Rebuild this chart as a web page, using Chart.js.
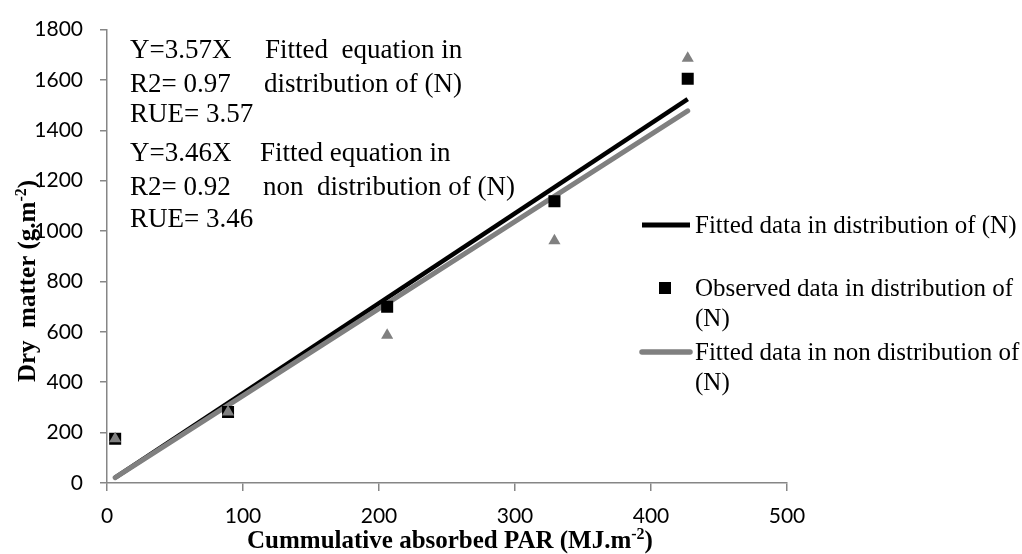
<!DOCTYPE html>
<html>
<head>
<meta charset="utf-8">
<script src="https://cdn.jsdelivr.net/npm/chart.js@4/dist/chart.umd.min.js"></script>
<style>
  html, body { margin: 0; padding: 0; background: #fff; }
  #wrap { width: 1022px; height: 554px; position: relative; }
</style>
</head>
<body>
<div id="wrap"><canvas id="rueChart"></canvas></div>
<script>
// cumulative absorbed PAR (x) and dry matter values
const parValues = [6, 89, 206, 329, 427];
const observedDist = [176, 282, 700, 1119, 1605];
const observedNonDist = [176, 282, 587, 962, 1686];
const fittedDist = [21, 318, 735, 1175, 1524];
const fittedNonDist = [21, 308, 713, 1138, 1477];

const xTicks = [0, 100, 200, 300, 400, 500];
const yTicks = [0, 200, 400, 600, 800, 1000, 1200, 1400, 1600, 1800];

const seriesLabels = [
    'Fitted data in distribution of (N)',
    'Observed data in distribution of (N)',
    'Fitted data in non distribution of (N)',
    'Observed data in non distribution of (N)'
];

// equation notes, left and right column
const noteLines = [
    ['Y=3.57X', 'Fitted  equation in'],
    ['R2= 0.97', 'distribution of (N)'],
    ['RUE= 3.57', ''],
    ['Y=3.46X', 'Fitted equation in'],
    ['R2= 0.92', 'non  distribution of (N)'],
    ['RUE= 3.46', '']
];

const toPoints = (xs, ys) => xs.map((x, i) => ({ x: x, y: ys[i] }));

const GREY = '#808080';
const SERIF = '"Liberation Serif", "Times New Roman", serif';

// draws bold text with superscript pieces, centred on x
function drawRich(ctx, parts, x, y, size) {
    const supSize = Math.round(size * 0.62);
    let total = 0;
    parts.forEach(p => {
        ctx.font = 'bold ' + (p.sup ? supSize : size) + 'px ' + SERIF;
        p.w = ctx.measureText(p.t).width;
        total += p.w;
    });
    let cx = x - total / 2;
    parts.forEach(p => {
        ctx.font = 'bold ' + (p.sup ? supSize : size) + 'px ' + SERIF;
        ctx.fillText(p.t, cx, p.sup ? y - size * 0.36 : y);
        cx += p.w;
    });
}

const overlay = {
    id: 'overlay',
    afterDraw(chart) {
        const ctx = chart.ctx;
        ctx.save();
        ctx.fillStyle = '#000';
        ctx.textBaseline = 'alphabetic';
        ctx.textAlign = 'left';

        // equations
        ctx.font = '27px ' + SERIF;
        const noteY = [58, 92, 122, 161, 195, 227];
        const rightX = [265, 264, 264, 260, 263, 263];
        noteLines.forEach((row, i) => {
            ctx.fillText(row[0], 130, noteY[i]);
            if (row[1]) ctx.fillText(row[1], rightX[i], noteY[i]);
        });

        // axis titles
        drawRich(ctx, [
            { t: 'Cummulative absorbed PAR (MJ.m' },
            { t: '-2', sup: true },
            { t: ')' }
        ], 450, 548, 25);

        ctx.save();
        ctx.translate(35, 281);
        ctx.rotate(-Math.PI / 2);
        drawRich(ctx, [
            { t: 'Dry  matter (g.m' },
            { t: '-2', sup: true },
            { t: ')' }
        ], 0, 0, 25);
        ctx.restore();

        // legend
        ctx.font = '25px ' + SERIF;
        ctx.lineCap = 'butt';
        ctx.strokeStyle = '#000';
        ctx.lineWidth = 5;
        ctx.beginPath();
        ctx.moveTo(642, 225);
        ctx.lineTo(690, 225);
        ctx.stroke();
        ctx.fillText('Fitted data in distribution of (N)', 695, 233);

        ctx.fillRect(659, 282, 12, 12);
        ctx.fillText('Observed data in distribution of', 695, 296);
        ctx.fillText('(N)', 695, 326);

        ctx.strokeStyle = GREY;
        ctx.lineWidth = 5.5;
        ctx.lineCap = 'round';
        ctx.beginPath();
        ctx.moveTo(642, 352);
        ctx.lineTo(690, 352);
        ctx.stroke();
        ctx.fillText('Fitted data in non distribution of', 695, 360);
        ctx.fillText('(N)', 695, 390);
        ctx.restore();
    }
};

const ctx = document.getElementById('rueChart').getContext('2d');
const rueChart = new Chart(ctx, {
    type: 'scatter',
    data: {
        datasets: [{
            label: seriesLabels[3],
            data: toPoints(parValues, observedNonDist),
            pointStyle: 'triangle',
            pointRadius: 7,
            backgroundColor: GREY,
            borderColor: GREY,
            borderWidth: 0,
            order: 1
        }, {
            label: seriesLabels[1],
            data: toPoints(parValues, observedDist),
            pointStyle: 'rect',
            pointRadius: 8.5,
            backgroundColor: '#000',
            borderColor: '#000',
            borderWidth: 0,
            order: 2
        }, {
            label: seriesLabels[2],
            data: toPoints([parValues[0], parValues[4]], [fittedNonDist[0], fittedNonDist[4]]),
            showLine: true,
            borderColor: GREY,
            borderWidth: 5,
            borderCapStyle: 'round',
            pointRadius: 0,
            order: 3
        }, {
            label: seriesLabels[0],
            data: toPoints([parValues[0], parValues[4]], [fittedDist[0], fittedDist[4]]),
            showLine: true,
            borderColor: '#000',
            borderWidth: 4.5,
            borderCapStyle: 'butt',
            pointRadius: 0,
            order: 4
        }]
    },
    options: {
        responsive: true,
        maintainAspectRatio: false,
        animation: false,
        layout: {
            padding: { left: 0, top: 23, right: 235, bottom: 0 }
        },
        plugins: {
            legend: { display: false },
            tooltip: { enabled: false }
        },
        scales: {
            x: {
                type: 'linear',
                min: xTicks[0],
                max: xTicks[xTicks.length - 1],
                afterBuildTicks: s => { s.ticks = xTicks.map(v => ({ value: v })); },
                afterFit: s => { s.height = 71; },
                border: { color: '#868686', width: 1.5 },
                grid: { drawOnChartArea: false, tickLength: 8, color: '#868686', lineWidth: 1.5 },
                ticks: {
                    color: '#000',
                    padding: 13,
                    font: { family: 'Lato', size: 21 },
                    callback: v => String(v)
                }
            },
            y: {
                type: 'linear',
                min: yTicks[0],
                max: yTicks[yTicks.length - 1],
                afterBuildTicks: s => { s.ticks = yTicks.map(v => ({ value: v })); },
                afterFit: s => { s.width = 107; },
                border: { color: '#868686', width: 1.5 },
                grid: { drawOnChartArea: false, tickLength: 7, color: '#868686', lineWidth: 1.5 },
                ticks: {
                    color: '#000',
                    padding: 17,
                    font: { family: 'Lato', size: 21 },
                    callback: v => String(v)
                }
            }
        }
    },
    plugins: [overlay]
});
</script>
</body>
</html>
